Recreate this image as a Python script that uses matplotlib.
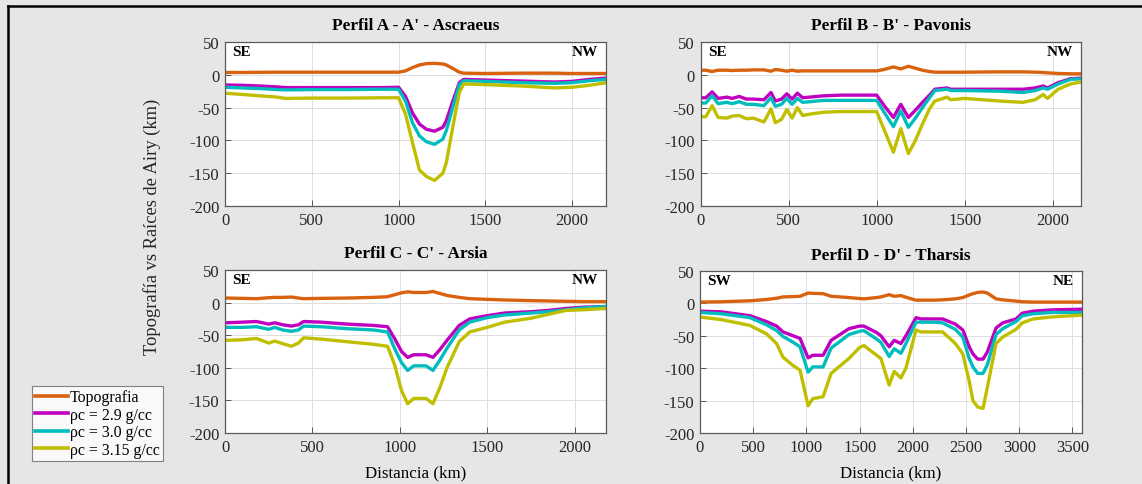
import matplotlib
matplotlib.use("Agg")
import matplotlib.pyplot as plt
from matplotlib.lines import Line2D

plt.rcParams["font.family"] = ["Liberation Serif", "DejaVu Serif"]
plt.rcParams["axes.unicode_minus"] = False

# ---------------- data ----------------
series_labels = ["Topografia", "ρc = 2.9 g/cc", "ρc = 3.0 g/cc", "ρc = 3.15 g/cc"]
series_colors = ["#d9620f", "#c000c0", "#00bcbc", "#bfbf00"]

# Perfil A - A' - Ascraeus
dist_a = [0, 100, 200, 300, 350, 500, 700, 900, 1000, 1040, 1080, 1120, 1160, 1207,
          1255, 1275, 1310, 1350, 1375, 1500, 1700, 1900, 2000, 2100, 2195]
topo_a = [3.5, 3.5, 3.8, 4, 4, 4, 4, 4, 4, 6, 11, 15, 17, 17.5,
          16.5, 15, 10, 4, 2.5, 2, 2.5, 2.5, 2, 2, 2]
r29_a = [-15.5, -16, -17, -18.5, -19.5, -19.5, -19.5, -19.5, -19, -33, -58, -75, -83, -86,
         -80, -70, -42, -12, -7, -8, -9.5, -11, -10, -7, -5]
r30_a = [-19, -20, -21, -22.5, -23, -22.5, -22.5, -22, -22, -40, -73, -93, -102, -106,
         -98, -85, -52, -15, -9, -10, -12, -13, -12, -9, -7]
r315_a = [-28, -30, -32, -34, -36, -35.5, -35.5, -35, -35, -60, -103, -145, -155, -161,
          -150, -134, -83, -27, -14, -15, -17, -20, -19, -16, -12]

# Perfil B - B' - Pavonis
dist_b = [0, 30, 66, 100, 150, 180, 220, 260, 300, 360, 400, 425, 460, 490, 520, 550,
          580, 620, 700, 800, 1000, 1040, 1095, 1137, 1180, 1220, 1260, 1300, 1330,
          1400, 1420, 1500, 1700, 1830, 1900, 1945, 1970, 2030, 2100, 2160]
topo_b = [7, 7, 5, 7, 7, 6.5, 7, 7, 7.5, 7.5, 5.5, 8, 7, 5.5, 7, 5.5,
          6, 6, 6, 6, 6, 8, 12, 9, 13, 10, 7, 5, 4,
          4, 4, 4, 4.5, 4.5, 4, 3.5, 3, 2, 1.5, 1.5]
r29_b = [-35, -35, -26, -36, -34, -36, -33, -37, -37, -38, -27, -40, -37, -29, -37, -28,
         -35, -34, -32, -31, -31, -46, -65, -45, -65, -54, -42, -31, -22,
         -20, -22, -22, -22, -22, -20, -17, -20, -12, -6, -5]
r30_b = [-43, -43, -32, -44, -42, -44, -41, -45, -45, -47, -35, -48, -45, -36, -45, -36,
         -42, -41, -39, -39, -39, -56, -79, -55, -80, -66, -50, -35, -24,
         -22, -24, -24, -25, -27, -24, -20, -22, -14, -7, -6]
r315_b = [-64, -64, -47, -65, -66, -63, -62, -67, -66, -72, -52, -73, -68, -53, -66, -50,
          -62, -60, -57, -56, -56, -82, -118, -82, -120, -100, -75, -52, -40,
          -34, -38, -36, -40, -42, -38, -30, -36, -22, -14, -11]

# Perfil C - C' - Arsia
dist_c = [0, 100, 180, 250, 285, 330, 380, 420, 450, 550, 700, 850, 930, 970, 1010,
          1045, 1080, 1150, 1190, 1230, 1270, 1340, 1400, 1500, 1600, 1750, 1850,
          1950, 2050, 2180]
topo_c = [7, 6.5, 6, 7.5, 8, 8, 8.5, 7, 6, 6.5, 7, 8, 9, 12, 15,
          16.5, 15.5, 15.5, 17, 14, 11, 8, 6, 5, 4, 3, 2.5,
          2, 1.5, 1.5]
r29_c = [-31, -30, -29, -33, -31, -34, -36, -34, -29, -30, -33, -35, -37, -55, -75,
         -84, -80, -80, -84, -72, -58, -35, -25, -20, -16, -14, -12,
         -9, -7, -6]
r30_c = [-38, -38, -37, -41, -38, -42, -44, -42, -36, -37, -40, -42, -45, -70, -92,
         -104, -97, -97, -104, -88, -70, -42, -30, -23, -19, -16, -14,
         -11, -8, -6]
r315_c = [-58, -57, -55, -62, -59, -63, -67, -62, -54, -56, -60, -64, -67, -95, -135,
          -155, -147, -147, -155, -130, -100, -60, -45, -38, -30, -24, -18,
          -12, -11, -9]

# Perfil D - D' - Tharsis
dist_d = [0, 200, 470, 625, 720, 780, 875, 940, 1016, 1060, 1157, 1232, 1400, 1500,
          1540, 1660, 1700, 1778, 1825, 1888, 1935, 2030, 2076, 2200, 2280, 2400,
          2470, 2530, 2565, 2610, 2660, 2700, 2782, 2845, 2970, 3030, 3130, 3300, 3590]
topo_d = [2, 2.5, 4, 6, 8, 10, 10.5, 11, 16, 15.5, 15, 11, 9, 7.5,
          7, 9, 10, 13.5, 11, 12, 9.5, 5, 5, 5, 5.5, 7,
          9, 13, 15, 17, 17.5, 16, 7, 5.5, 3.5, 2.5, 2, 2, 2]
r29_d = [-12, -13, -19, -28, -35, -44, -50, -54, -84, -80, -80, -57, -39, -35,
         -35, -45, -50, -67, -57, -62, -50, -22, -24, -24, -24, -32,
         -41, -67, -78, -86, -86, -75, -38, -30, -24, -15, -12, -10, -9]
r30_d = [-14, -16, -22, -33, -42, -51, -60, -67, -106, -98, -98, -69, -48, -43,
         -42, -55, -60, -82, -70, -77, -62, -29, -29, -29, -30, -40,
         -52, -85, -98, -108, -108, -95, -48, -39, -28, -19, -16, -14, -14]
r315_d = [-21, -25, -34, -47, -62, -83, -96, -103, -158, -147, -144, -108, -85, -68,
          -65, -80, -85, -126, -105, -115, -100, -41, -44, -44, -44, -62,
          -78, -120, -150, -160, -162, -130, -62, -52, -40, -30, -24, -21, -18]

titles = ["Perfil A - A' - Ascraeus", "Perfil B - B' - Pavonis",
          "Perfil C - C' - Arsia", "Perfil D - D' - Tharsis"]
corner_left = ["SE", "SE", "SE", "SW"]
corner_right = ["NW", "NW", "NW", "NE"]
x_max = [2195, 2160, 2180, 3590]
x_ticks = [[0, 500, 1000, 1500, 2000]] * 3 + [[0, 500, 1000, 1500, 2000, 2500, 3000, 3500]]
y_ticks = [-200, -150, -100, -50, 0, 50]

profiles = [
    (dist_a, [topo_a, r29_a, r30_a, r315_a]),
    (dist_b, [topo_b, r29_b, r30_b, r315_b]),
    (dist_c, [topo_c, r29_c, r30_c, r315_c]),
    (dist_d, [topo_d, r29_d, r30_d, r315_d]),
]

# ---------------- figure ----------------
W, H = 1142, 485
fig = plt.figure(figsize=(W / 100, H / 100), dpi=100)
fig.patch.set_facecolor("#e6e6e6")

def box(l, t, r, b):
    return [l / W, 1 - b / H, (r - l) / W, (b - t) / H]

rects = [box(225, 43, 606, 207), box(700.5, 43, 1081, 207),
         box(225, 271, 606, 434), box(700, 272, 1082, 434)]

axes = []
for i, (rect, (dist, vals)) in enumerate(zip(rects, profiles)):
    ax = fig.add_axes(rect)
    ax.set_facecolor("white")
    for v, c, lab in zip(vals, series_colors, series_labels):
        ax.plot(dist, v, color=c, lw=2.4, label=lab, solid_joinstyle="round")
    ax.set_xlim(0, x_max[i])
    ax.set_ylim(-200, 50)
    ax.set_xticks(x_ticks[i])
    ax.set_yticks(y_ticks)
    ax.grid(True, color="#dedede", lw=0.7)
    ax.set_axisbelow(True)
    ax.tick_params(direction="in", length=4, width=0.7, colors="#555555",
                   labelcolor="#262626", labelsize=12, pad=4)
    for s in ax.spines.values():
        s.set_color("#5a5a5a")
        s.set_linewidth(0.9)
    ax.set_title(titles[i], fontsize=12.4, fontweight="bold", pad=9)
    ax.text(0.02, 0.94, corner_left[i], transform=ax.transAxes, fontsize=11,
            fontweight="bold", ha="left", va="center")
    ax.text(0.978, 0.94, corner_right[i], transform=ax.transAxes, fontsize=11,
            fontweight="bold", ha="right", va="center")
    axes.append(ax)

axes[2].set_xlabel("Distancia (km)", fontsize=12.2, labelpad=7)
axes[3].set_xlabel("Distancia (km)", fontsize=12.2, labelpad=7)

fig.text(152 / W, 1 - 227 / H, "Topografía vs Raíces de Airy (km)", rotation=90,
         ha="center", va="center", fontsize=13.3, color="#262626")

handles = [Line2D([], [], color=c, lw=2.6) for c in series_colors]
leg = fig.legend(handles, series_labels, loc="upper left",
                 bbox_to_anchor=(32 / W, 1 - 387 / H), fontsize=11.4,
                 frameon=True, fancybox=False, handlelength=2.05,
                 handletextpad=0.15, labelspacing=0.1, borderpad=0.2,
                 borderaxespad=0)
leg.get_frame().set_edgecolor("#666666")
leg.get_frame().set_linewidth(0.8)
leg.get_frame().set_facecolor("white")

# outer frame (top and left edges)
fig.add_artist(Line2D([7.5 / W, 1], [1 - 6.5 / H, 1 - 6.5 / H], color="black",
                      lw=1.8, transform=fig.transFigure))
fig.add_artist(Line2D([7.5 / W, 7.5 / W], [0, 1 - 6.5 / H], color="black",
                      lw=1.8, transform=fig.transFigure))

fig.savefig("out.png", dpi=100, facecolor=fig.get_facecolor())
